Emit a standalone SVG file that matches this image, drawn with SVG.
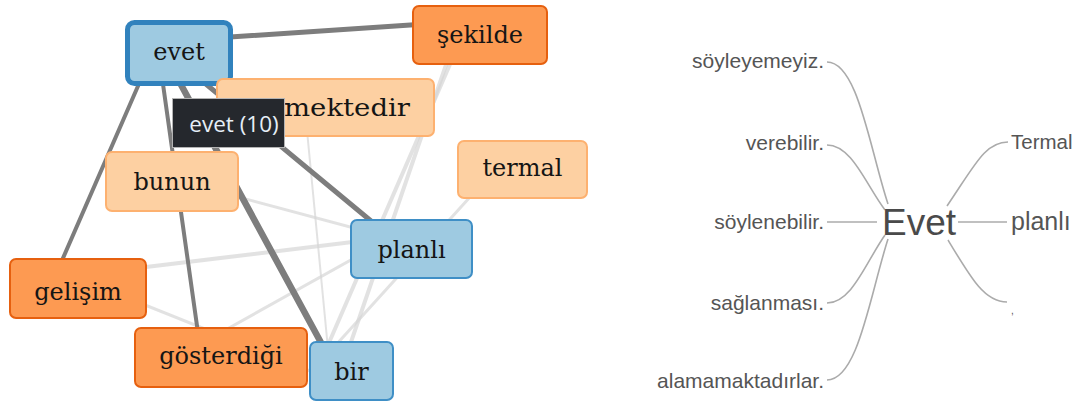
<svg xmlns="http://www.w3.org/2000/svg" width="1079" height="405" viewBox="0 0 1079 405">
<style>
.bg{fill:#ffffff}
.dk{stroke:#7d7d7d;stroke-linecap:round;fill:none}
.lt{stroke:#d6d6d6;stroke-opacity:0.7;stroke-linecap:round;fill:none}
.blue rect{fill:#9ecae1;stroke:#3f8fc6;stroke-width:2}
.dor rect{fill:#fd9a52;stroke:#e6600f;stroke-width:2}
.lor rect{fill:#fdd0a2;stroke:#fdb170;stroke-width:2}
.node text{font-family:"DejaVu Serif","Liberation Serif",serif;font-size:24px;fill:#151515;text-anchor:middle}
.wt{stroke:#ababab;stroke-width:1.6;fill:none}
.ww{font-family:"Liberation Sans",Arial,sans-serif;fill:#555555}
</style>
<rect class="bg" x="0" y="0" width="1079" height="405"/>
<g id="connectors">
<line class="lt" x1="175" y1="180" x2="410" y2="243" stroke-width="3"/>
<line class="lt" x1="80" y1="275" x2="410" y2="235" stroke-width="4"/>
<line class="lt" x1="80" y1="279" x2="350" y2="387" stroke-width="3"/>
<line class="lt" x1="220" y1="333" x2="410" y2="227" stroke-width="3"/>
<line class="lt" x1="306" y1="120" x2="330" y2="370" stroke-width="2"/>
<line class="lt" x1="451" y1="62" x2="328" y2="345" stroke-width="4"/>
<line class="lt" x1="447" y1="62" x2="350" y2="345" stroke-width="4"/>
<line class="lt" x1="480" y1="186" x2="335" y2="346" stroke-width="3"/>
<line class="dk" x1="200" y1="39" x2="470" y2="21" stroke-width="5"/>
<line class="dk" x1="145" y1="70" x2="60" y2="265" stroke-width="4"/>
<line class="dk" x1="161" y1="70" x2="199" y2="340" stroke-width="4"/>
<line class="dk" x1="173" y1="70" x2="325" y2="350" stroke-width="6.5"/>
<line class="dk" x1="195" y1="75" x2="400" y2="245" stroke-width="5"/>
</g>
<g id="node-sekilde" class="node dor"><rect x="413" y="6" width="134" height="58" rx="6"/><text x="480" y="43">şekilde</text></g>
<g id="node-evet" class="node blue"><rect x="127.5" y="22.5" width="103" height="61" rx="7" style="stroke:#3182bd;stroke-width:5"/><text x="179" y="60">evet</text></g>
<g id="node-mektedir" class="node lor"><rect x="217" y="79" width="217" height="57" rx="6"/><text x="410" y="116" textLength="126" lengthAdjust="spacingAndGlyphs" style="text-anchor:end">mektedir</text></g>
<g id="node-termal" class="node lor"><rect x="458" y="141" width="129" height="57" rx="6"/><text x="522.5" y="176">termal</text></g>
<g id="node-bunun" class="node lor"><rect x="106" y="152" width="132" height="59" rx="6"/><text x="172" y="190">bunun</text></g>
<g id="node-planli" class="node blue"><rect x="351" y="220" width="121" height="58" rx="6"/><text x="411.5" y="258">planlı</text></g>
<g id="node-gelisim" class="node dor"><rect x="10" y="259" width="136" height="59" rx="6"/><text x="78" y="300">gelişim</text></g>
<g id="node-gosterdigi" class="node dor"><rect x="135" y="328" width="172" height="59" rx="6"/><text x="221" y="364">gösterdiği</text></g>
<g id="node-bir" class="node blue"><rect x="310" y="342" width="83" height="58" rx="6"/><text x="351.5" y="380">bir</text></g>
<g id="tooltip"><rect x="172.5" y="98.5" width="112" height="49" fill="#25282d" stroke="#b4b4b4" stroke-width="1"/><text x="234" y="132" font-family="'Open Sans','Noto Sans',sans-serif" font-size="22.5" fill="#e6eef7" text-anchor="middle">evet (10)</text></g>
<g id="wordtree">
<path class="wt" d="M827,62 C858,62 870,150 888,204"/>
<path class="wt" d="M827,145 C852,145 866,185 885,210"/>
<path class="wt" d="M827,222 L877,222"/>
<path class="wt" d="M827,303 C852,303 866,262 885,235"/>
<path class="wt" d="M827,380 C858,380 870,295 888,239"/>
<path class="wt" d="M947,206 C975,165 985,142 1008,142"/>
<path class="wt" d="M958,222 L1007,222"/>
<path class="wt" d="M948,240 C972,280 985,302 1007,302"/>
<text class="ww" x="824" y="68" font-size="21" text-anchor="end">söyleyemeyiz.</text>
<text class="ww" x="824" y="150" font-size="21" text-anchor="end">verebilir.</text>
<text class="ww" x="824" y="229" font-size="21" text-anchor="end">söylenebilir.</text>
<text class="ww" x="824" y="310" font-size="21" text-anchor="end">sağlanması.</text>
<text class="ww" x="824" y="388" font-size="21" text-anchor="end">alamamaktadırlar.</text>
<text class="ww" x="882" y="235" font-size="37" style="fill:#4a4a4a">Evet</text>
<text class="ww" x="1011" y="149" font-size="20.5">Termal</text>
<text class="ww" x="1011" y="230" font-size="25">planlı</text>
<text class="ww" x="1011" y="314" font-size="10">,</text>
</g>
</svg>
